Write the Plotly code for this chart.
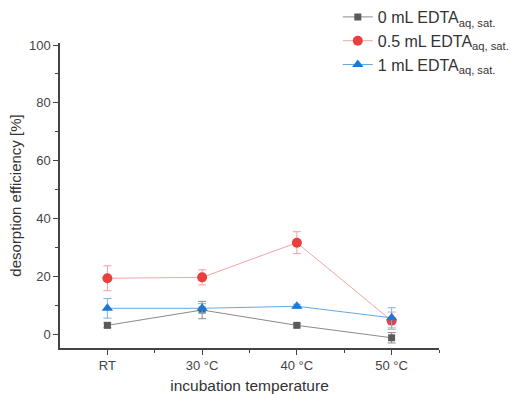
import plotly.graph_objects as go

categories = ["RT", "30 °C", "40 °C", "50 °C"]
x_pos = [0, 1, 2, 3]

names = ["0 mL EDTA<sub>aq, sat.</sub>", "0.5 mL EDTA<sub>aq, sat.</sub>", "1 mL EDTA<sub>aq, sat.</sub>"]
vals_0 = [3.0, 8.3, 3.0, -1.3]
err_0 = [0.8, 3.0, 0.6, 1.8]
vals_05 = [19.3, 19.6, 31.6, 4.6]
err_05 = [4.3, 2.6, 3.8, 3.0]
vals_1 = [8.9, 8.9, 9.6, 5.6]
err_1 = [3.4, 1.6, 0.7, 3.5]

marker_colors = ["#5a5a5a", "#e8403f", "#1f78d1"]
line_colors = ["#8a8a8a", "#f2a6a6", "#6aa8dc"]
err_colors = ["#8a8a8a", "#f0a0a0", "#7ab4e4"]
symbols = ["square", "circle", "triangle-up"]
sizes = [7, 10, 10]

fig = go.Figure()
for name, v, e, mc, lc, ec, s, sz in zip(names, [vals_0, vals_05, vals_1], [err_0, err_05, err_1],
                                          marker_colors, line_colors, err_colors, symbols, sizes):
    fig.add_trace(go.Scatter(
        x=x_pos, y=v, name=name, mode="lines+markers",
        line=dict(color=lc, width=1),
        marker=dict(color=mc, symbol=s, size=sz),
        error_y=dict(type="data", array=e, visible=True, color=ec, thickness=1, width=4),
    ))

axis_font = dict(family="Liberation Sans, Arial, sans-serif", size=13, color="#444")
fig.update_layout(
    width=511, height=394,
    margin=dict(l=60, r=72, t=43, b=46, autoexpand=False),
    paper_bgcolor="white", plot_bgcolor="white",
    font=dict(family="Liberation Sans, Arial, sans-serif", size=13, color="#333"),
    showlegend=True,
    legend=dict(x=0.733, y=1.0, xref="paper", yref="container", xanchor="left", yanchor="top",
                bgcolor="rgba(0,0,0,0)", font=dict(size=16, color="#333"), tracegroupgap=0),
    xaxis=dict(range=[-0.5, 3.5], tickvals=x_pos, ticktext=categories,
               showline=True, linecolor="#444", linewidth=1.5, ticks="outside",
               tickcolor="#444", ticklen=5, showgrid=False, zeroline=False,
               tickfont=axis_font,
               minor=dict(tickvals=[0.5, 1.5, 2.5, 3.5], ticks="outside", ticklen=3, tickcolor="#444"),
               title=dict(text="incubation temperature", font=dict(size=15.5, color="#333"), standoff=10)),
    yaxis=dict(range=[-4.84, 100.7], tickvals=[0, 20, 40, 60, 80, 100],
               showline=True, linecolor="#444", linewidth=1.5, ticks="outside",
               tickcolor="#444", ticklen=5, showgrid=False, zeroline=False,
               tickfont=axis_font,
               minor=dict(tickvals=[10, 30, 50, 70, 90], ticks="outside", ticklen=3, tickcolor="#444"),
               title=dict(text="desorption efficiency [%]", font=dict(size=15, color="#333"), standoff=4)),
)

fig.write_html("out.html")
